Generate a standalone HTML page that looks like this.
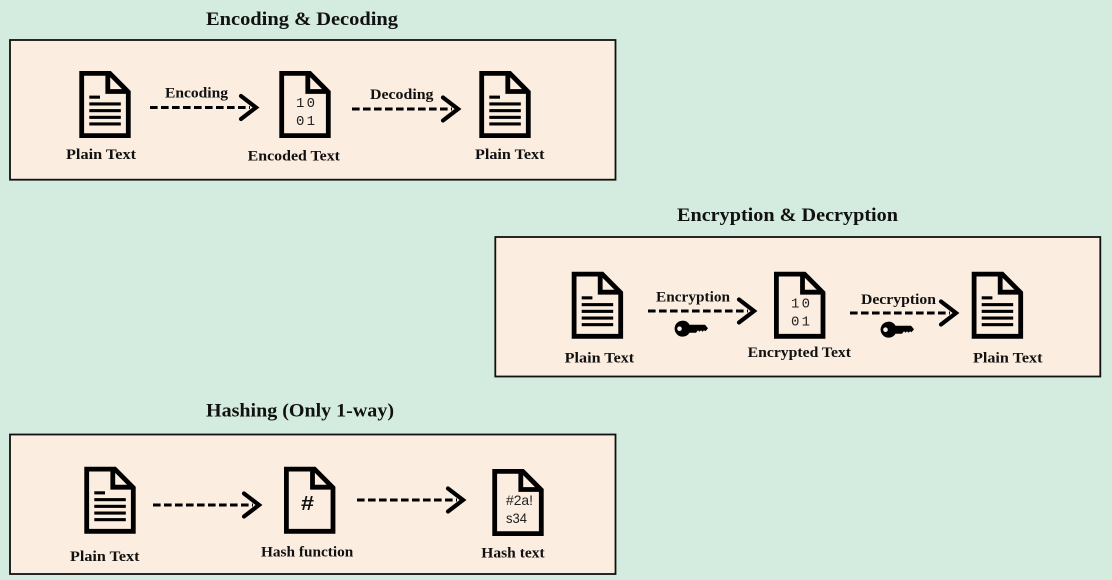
<!DOCTYPE html>
<html>
<head>
<meta charset="utf-8">
<style>
html,body{margin:0;padding:0;background:#d4ecdf;width:1112px;height:580px;overflow:hidden}
svg{display:block}
text.t{font-family:"Liberation Serif",serif;font-weight:bold;fill:#111}
</style>
</head>
<body>
<svg width="1112" height="580" viewBox="0 0 1112 580" xmlns="http://www.w3.org/2000/svg">
<defs>
<g id="doc">
  <path d="M2.4 2.4H30.5L49 21V64.6H2.4Z" fill="none" stroke="#000" stroke-width="4.8" stroke-linejoin="miter"/>
  <path d="M28.5 2V20.5H49" fill="none" stroke="#000" stroke-width="4.8"/>
</g>
<g id="lines" fill="#000">
  <rect x="10" y="24.6" width="10.7" height="3.1"/>
  <rect x="10" y="31.4" width="31.5" height="3.1"/>
  <rect x="10" y="38.1" width="31.5" height="3.1"/>
  <rect x="10" y="44.8" width="31.5" height="3.1"/>
  <rect x="10" y="51.4" width="31.5" height="3.1"/>
</g>
<g id="arrow">
  <path d="M0 0H100" fill="none" stroke="#000" stroke-width="2.9" stroke-dasharray="7.6 3.4"/>
  <path d="M91 -11.5L106 0L91 11.5" fill="none" stroke="#000" stroke-width="4.2" stroke-linecap="round" stroke-linejoin="miter"/>
</g>
<g id="key" fill="#000">
  <path d="M8 0A8 8 0 0 1 15.5 4H31L34 7.5L31.5 10.5L30 9.5L28.5 11L27 9.5L25.5 11L24 9.5L22 12H15.5A8 8 0 1 1 8 0Z"/>
  <circle cx="5.5" cy="8" r="2.3" fill="#fbeddf"/>
</g>
</defs>

<rect width="1112" height="580" fill="#d4ecdf"/>

<rect x="10" y="40" width="605.5" height="139.7" fill="#fbeddf" stroke="#111" stroke-width="1.8"/>
<rect x="495.3" y="237" width="605" height="139.5" fill="#fbeddf" stroke="#111" stroke-width="1.8"/>
<rect x="10" y="434.5" width="605.5" height="139.5" fill="#fbeddf" stroke="#111" stroke-width="1.8"/>

<text class="t" x="206" y="25" font-size="19" textLength="192" lengthAdjust="spacingAndGlyphs">Encoding &amp; Decoding</text>
<text class="t" x="677" y="221" font-size="19" textLength="221" lengthAdjust="spacingAndGlyphs">Encryption &amp; Decryption</text>
<text class="t" x="206" y="416.5" font-size="19" textLength="188" lengthAdjust="spacingAndGlyphs">Hashing (Only 1-way)</text>

<!-- Row 1 -->
<use href="#doc" x="79.3" y="71"/><use href="#lines" x="79.3" y="71"/>
<use href="#doc" x="279.3" y="71"/>
<use href="#doc" x="479.3" y="71"/><use href="#lines" x="479.3" y="71"/>
<use href="#arrow" x="150" y="107.5"/>
<use href="#arrow" x="352" y="109"/>
<text x="296" y="107" font-family="Liberation Mono,monospace" font-size="14" fill="#222" textLength="19">1 0</text>
<text x="296" y="125" font-family="Liberation Mono,monospace" font-size="14" fill="#222" textLength="19">0 1</text>
<text class="t" x="165" y="97.5" font-size="14.5" textLength="63" lengthAdjust="spacingAndGlyphs">Encoding</text>
<text class="t" x="370" y="99" font-size="14.5" textLength="63.5" lengthAdjust="spacingAndGlyphs">Decoding</text>
<text class="t" x="66" y="159" font-size="14.5" textLength="70" lengthAdjust="spacingAndGlyphs">Plain Text</text>
<text class="t" x="247.7" y="160.5" font-size="14.5" textLength="92.3" lengthAdjust="spacingAndGlyphs">Encoded Text</text>
<text class="t" x="475" y="159" font-size="14.5" textLength="69.5" lengthAdjust="spacingAndGlyphs">Plain Text</text>

<!-- Row 2 -->
<use href="#doc" x="571.7" y="271.7"/><use href="#lines" x="571.7" y="271.7"/>
<use href="#doc" x="774" y="271.7"/>
<use href="#doc" x="971.7" y="271.7"/><use href="#lines" x="971.7" y="271.7"/>
<use href="#arrow" x="648" y="311"/>
<use href="#arrow" x="850" y="313"/>
<use href="#key" x="674" y="320.7"/>
<use href="#key" x="880" y="321.7"/>
<text x="791" y="307.5" font-family="Liberation Mono,monospace" font-size="14" fill="#222" textLength="19">1 0</text>
<text x="791" y="325.5" font-family="Liberation Mono,monospace" font-size="14" fill="#222" textLength="19">0 1</text>
<text class="t" x="656" y="301.5" font-size="14.5" textLength="74" lengthAdjust="spacingAndGlyphs">Encryption</text>
<text class="t" x="861" y="304" font-size="14.5" textLength="75" lengthAdjust="spacingAndGlyphs">Decryption</text>
<text class="t" x="564.7" y="362.5" font-size="14.5" textLength="69.5" lengthAdjust="spacingAndGlyphs">Plain Text</text>
<text class="t" x="747.7" y="357" font-size="14.5" textLength="103.3" lengthAdjust="spacingAndGlyphs">Encrypted Text</text>
<text class="t" x="973" y="362.5" font-size="14.5" textLength="69.5" lengthAdjust="spacingAndGlyphs">Plain Text</text>

<!-- Row 3 -->
<use href="#doc" x="84.3" y="466.7"/><use href="#lines" x="84.3" y="466.7"/>
<use href="#doc" x="284" y="466.7"/>
<use href="#doc" x="492.3" y="469"/>
<use href="#arrow" x="153" y="505"/>
<use href="#arrow" x="357" y="500"/>
<text x="301" y="510" font-family="Liberation Sans,sans-serif" font-size="20" font-weight="bold" fill="#111" textLength="13" lengthAdjust="spacingAndGlyphs">#</text>
<text x="506" y="505" font-family="Liberation Sans,sans-serif" font-size="14" fill="#222" textLength="27" lengthAdjust="spacingAndGlyphs">#2a!</text>
<text x="506" y="523" font-family="Liberation Sans,sans-serif" font-size="14" fill="#222" textLength="21" lengthAdjust="spacingAndGlyphs">s34</text>
<text class="t" x="70" y="561" font-size="14.5" textLength="69.5" lengthAdjust="spacingAndGlyphs">Plain Text</text>
<text class="t" x="261" y="556.5" font-size="14.5" textLength="92.3" lengthAdjust="spacingAndGlyphs">Hash function</text>
<text class="t" x="481.3" y="557.5" font-size="14.5" textLength="63.4" lengthAdjust="spacingAndGlyphs">Hash text</text>
</svg>
</body>
</html>
